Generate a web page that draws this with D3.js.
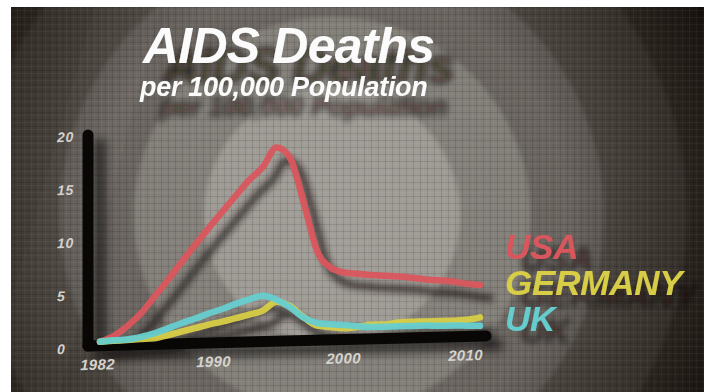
<!DOCTYPE html>
<html><head><meta charset="utf-8">
<script src="https://cdn.jsdelivr.net/npm/d3@7"></script>
<style>
html,body{margin:0;padding:0;background:#fff;}
svg{display:block;}
text{font-family:"Liberation Sans",Arial,"DejaVu Sans",sans-serif;font-weight:bold;font-style:italic;}
</style></head><body>
<svg id="c" width="704" height="392"></svg>
<script>
// ---- data ----
const years = [1982,1983,1984,1985,1986,1987,1988,1989,1990,1991,1992,1993,1994,1995,1996,1997,1998,1999,2000,2001,2002,2003,2004,2005,2006,2007,2008,2009,2010];
const usa = [0,0.5,1.4,2.55,4.1,5.65,7.3,8.9,10.45,11.95,13.45,14.9,16.1,17.9,16.9,12.7,8.05,6.45,5.95,5.8,5.65,5.55,5.45,5.3,5.1,5.0,4.85,4.6,4.45];
const germany = [0,0.05,0.1,0.15,0.2,0.45,0.75,1.05,1.35,1.6,1.9,2.2,2.55,3.35,2.9,1.85,1.0,0.85,0.7,0.8,0.95,0.95,1.1,1.15,1.15,1.15,1.15,1.2,1.4];
const uk = [0,0.1,0.15,0.35,0.65,1.1,1.55,1.95,2.4,2.8,3.25,3.65,3.95,3.55,2.8,1.8,1.25,1.1,1.0,0.85,0.75,0.75,0.75,0.75,0.75,0.7,0.7,0.65,0.6];
const seriesNames = ["USA","GERMANY","UK"];
const yTicks = [0,5,10,15,20];
const xTicks = [1982,1990,2000,2010];
const titleText = "AIDS Deaths";
const subtitleText = "per 100,000 Population";

// ---- styles ----
const colors = {USA:"#da565d", GERMANY:"#d8cd47", UK:"#66cdcf"};

const svg = d3.select("#c");
const defs = svg.append("defs");

// background
const W = 704, H = 392, bx = 11, by = 7;
const clip = defs.append("clipPath").attr("id","imgclip");
clip.append("rect").attr("x",bx).attr("y",by).attr("width",W-bx).attr("height",H-by);

const blurBg = defs.append("filter").attr("id","bgblur").attr("x","-20%").attr("y","-20%").attr("width","140%").attr("height","140%");
blurBg.append("feGaussianBlur").attr("stdDeviation",2);

const vig = defs.append("radialGradient").attr("id","vig").attr("cx",330).attr("cy",215).attr("r",430).attr("gradientUnits","userSpaceOnUse");
vig.append("stop").attr("offset","0%").attr("stop-color","#000").attr("stop-opacity",0);
vig.append("stop").attr("offset","55%").attr("stop-color","#000").attr("stop-opacity",0.05);
vig.append("stop").attr("offset","85%").attr("stop-color","#120d0a").attr("stop-opacity",0.55);
vig.append("stop").attr("offset","100%").attr("stop-color","#0d0906").attr("stop-opacity",0.85);

const pat = defs.append("pattern").attr("id","grid").attr("width",7).attr("height",7).attr("patternUnits","userSpaceOnUse");
pat.append("path").attr("d","M0 0.5H7M0.5 0V7").attr("stroke","#000").attr("stroke-opacity",0.1).attr("stroke-width",1);
pat.append("path").attr("d","M0 3.5H7M3.5 0V7").attr("stroke","#fff").attr("stroke-opacity",0.035).attr("stroke-width",1);

const bg = svg.append("g").attr("clip-path","url(#imgclip)");
bg.append("rect").attr("x",bx).attr("y",by).attr("width",W-bx).attr("height",H-by).attr("fill","#2c2520");
const rings = [{r:420,c:"#453d36"},{r:355,c:"#5b544d"},{r:272,c:"#706b65"},{r:198,c:"#88847e"},{r:128,c:"#a29e98"}];
const rg = bg.append("g").attr("filter","url(#bgblur)");
rg.selectAll("circle").data(rings).join("circle")
  .attr("cx",332).attr("cy",215).attr("r",d=>d.r).attr("fill",d=>d.c);
bg.append("path").attr("d","M11 300 L95 7 L160 7 L60 392 L11 392Z").attr("fill","#fff").attr("opacity",0.03);
bg.append("rect").attr("x",bx).attr("y",by).attr("width",W-bx).attr("height",H-by).attr("fill","url(#vig)");
bg.append("rect").attr("x",bx).attr("y",by).attr("width",W-bx).attr("height",H-by).attr("fill","url(#grid)");

// shadow filters
const sh = defs.append("filter").attr("id","shadow").attr("x","-20%").attr("y","-20%").attr("width","140%").attr("height","140%");
sh.append("feGaussianBlur").attr("stdDeviation",3);
const sh2 = defs.append("filter").attr("id","shadow2").attr("x","-30%").attr("y","-30%").attr("width","160%").attr("height","160%");
sh2.append("feGaussianBlur").attr("stdDeviation",5);

function dropShadow(id, dx, dy, sd, op){
  const f = defs.append("filter").attr("id",id).attr("x","-20%").attr("y","-50%").attr("width","150%").attr("height","220%");
  f.append("feGaussianBlur").attr("in","SourceAlpha").attr("stdDeviation",sd).attr("result","b");
  f.append("feOffset").attr("in","b").attr("dx",dx).attr("dy",dy).attr("result","o");
  f.append("feFlood").attr("flood-color","#120f0c").attr("flood-opacity",op).attr("result","c");
  f.append("feComposite").attr("in","c").attr("in2","o").attr("operator","in").attr("result","s");
  const m = f.append("feMerge");
  m.append("feMergeNode").attr("in","s");
  m.append("feMergeNode").attr("in","SourceGraphic");
}
dropShadow("titleShadow",20,20,3.5,0.75);
dropShadow("legShadow",15,12,3,0.6);

// ---- plot ----
const plot = svg.append("g").attr("transform","translate(88,0) skewY(-1.43)");
const x = d3.scaleLinear().domain([1982,2010]).range([12,392]);
// label row sits on a foreshortened plane
const xLab = d3.scaleLinear().domain([1982,1990,2000,2010]).range([9,125,255,377]);
const y = d3.scaleLinear().domain([0,20]).range([342,130]);

const series = [
  {name:"USA", values:usa},
  {name:"GERMANY", values:germany},
  {name:"UK", values:uk}
];
const line = d3.line().x((d,i)=>x(years[i])).y(d=>y(d)).curve(d3.curveMonotoneX);

// axis shadows
const axShadow = plot.append("g").attr("filter","url(#shadow2)").attr("opacity",0.6).attr("transform","translate(12,9)");
axShadow.append("line").attr("x1",0).attr("x2",0).attr("y1",y(20)+5).attr("y2",y(0)+4)
  .attr("stroke","#000").attr("stroke-width",11).attr("stroke-linecap","round");
axShadow.append("line").attr("x1",0).attr("x2",x(2010)+6).attr("y1",y(0)+4).attr("y2",y(0)+4)
  .attr("stroke","#000").attr("stroke-width",11).attr("stroke-linecap","round");

// line shadows
plot.append("g").attr("filter","url(#shadow)").attr("opacity",0.7).attr("transform","translate(10,13)")
  .selectAll("path").data(series).join("path")
  .attr("d",d=>line(d.values)).attr("fill","none").attr("stroke","#1b1917").attr("stroke-width",7).attr("stroke-linecap","round");

// axes bars
plot.append("line").attr("x1",0).attr("x2",0).attr("y1",y(20)+5).attr("y2",y(0)+4)
  .attr("stroke","#080706").attr("stroke-width",11).attr("stroke-linecap","round");
plot.append("line").attr("x1",0).attr("x2",x(2010)+6).attr("y1",y(0)+4).attr("y2",y(0)+4)
  .attr("stroke","#080706").attr("stroke-width",11).attr("stroke-linecap","round");

// y axis labels
const yAx = plot.append("g").attr("transform","translate(-31,0)")
  .call(d3.axisLeft(y).tickValues(yTicks).tickSize(0).tickPadding(0));
yAx.select(".domain").remove();
yAx.selectAll("text").attr("x",0).attr("y",6).attr("dy","0.35em").attr("text-anchor","start")
  .attr("fill","#d4d1cc").attr("font-size",14).attr("letter-spacing",0.8)
  .style("font-family","'Liberation Sans',Arial,sans-serif").style("font-weight","bold").style("font-style","italic");

// x axis labels
const xAx = plot.append("g").attr("transform","translate(0,370)")
  .call(d3.axisBottom(xLab).tickValues(xTicks).tickFormat(d3.format("d")).tickSize(0).tickPadding(0));
xAx.select(".domain").remove();
xAx.selectAll("text").attr("y",0).attr("dy","0").attr("fill","#d6d3ce").attr("font-size",15).attr("letter-spacing",0.3)
  .style("font-family","'Liberation Sans',Arial,sans-serif").style("font-weight","bold").style("font-style","italic");

// lines
plot.append("g").selectAll("path").data(series).join("path")
  .attr("d",d=>line(d.values)).attr("fill","none").attr("stroke",d=>colors[d.name])
  .attr("stroke-width",6.5).attr("stroke-linecap","round").attr("stroke-linejoin","round").attr("opacity",0.95);

// ---- legend ----
const legY = [259,295,331];
svg.append("g").attr("filter","url(#legShadow)")
  .selectAll("text").data(seriesNames).join("text")
  .attr("x",505).attr("y",(d,i)=>legY[i]).text(d=>d)
  .attr("font-size",35).attr("letter-spacing",-0.2).attr("fill",d=>colors[d]);

// ---- title ----
const tg = svg.append("g").attr("filter","url(#titleShadow)");
tg.append("text").attr("x",143).attr("y",63).text(titleText).attr("font-size",50).attr("letter-spacing",-0.8).attr("fill","#fbfbfb");
tg.append("text").attr("x",140).attr("y",96).text(subtitleText).attr("font-size",27).attr("letter-spacing",-0.3).attr("fill","#fbfbfb");
</script>
</body></html>
